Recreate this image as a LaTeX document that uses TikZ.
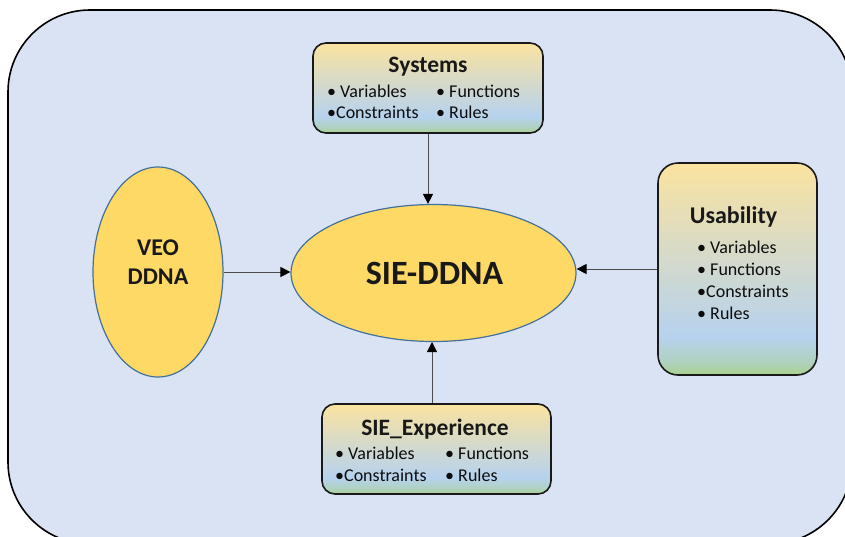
\documentclass[tikz,border=0pt]{standalone}
\usepackage{fontspec}
\setmainfont{Carlito}
\usetikzlibrary{arrows.meta,positioning,shapes.geometric,calc}

\definecolor{panelblue}{RGB}{218,227,243}
\definecolor{ovalfill}{RGB}{255,217,102}
\definecolor{ovalline}{RGB}{65,113,156}
\definecolor{byellow}{RGB}{250,227,160}
\definecolor{bblue}{RGB}{182,210,238}
\definecolor{bgreen}{RGB}{169,209,142}
\pgfdeclareverticalshading{boxgrad}{100bp}{color(0bp)=(bgreen); color(25bp)=(bgreen); color(28bp)=(bgreen!50!bblue); color(34bp)=(bblue); color(75bp)=(byellow); color(100bp)=(byellow)}

\begin{document}
\begin{tikzpicture}[x=1pt, y=-1pt,
		infobox/.style={rectangle, draw=black!90, line width=1.6pt, shade, shading=boxgrad, inner sep=0pt},
		oval/.style={ellipse, fill=ovalfill, draw=ovalline, line width=1.2pt, inner sep=0pt},
		title/.style={font=\fontsize{23.5}{26}\selectfont\bfseries, text=black!90, inner sep=0pt},
		item/.style={font=\fontsize{18}{20}\selectfont, text=black!95, inner sep=0pt, anchor=base west},
		link/.style={draw=black!70, line width=0.9pt, -{Triangle[length=10pt,width=10pt,color=black]}}]
	\useasboundingbox (0,0) rectangle (845,536);
	\clip (0,0) rectangle (845,536);

	% background panel
	\draw[fill=panelblue, line width=1.6pt, rounded corners=82pt] (8,10) rectangle (852,544);

	\node (sie) [oval, minimum width=285pt, minimum height=137pt] at (433.5,273) {};
	\node (sietext) [font=\fontsize{34}{38}\selectfont\bfseries, text=black!90, inner sep=0pt, anchor=base] at (434.5,284) {SIE-DDNA};

	\node (veo) [oval, minimum width=130pt, minimum height=210pt] at (158,272) {};
	\node (veotop) [title, font=\fontsize{24}{26}\selectfont\bfseries, anchor=base] at (158,255) {VEO};
	\node (veobot) [title, font=\fontsize{24}{26}\selectfont\bfseries, anchor=base] at (158,284) {DDNA};

	% Systems
	\node (sys) [infobox, rounded corners=13pt, minimum width=230pt, minimum height=90pt] at (428,88) {};
	\node (systitle) [title, anchor=base] at (428,72) {Systems};
	\node (sysvar) [item] at (327,97) {• Variables};
	\node (sysfun) [item] at (436,97) {• Functions};
	\node (syscon) [item] at (327,118) {•Constraints};
	\node (sysrul) [item] at (436,118) {• Rules};

	% Usability
	\node (usa) [infobox, rounded corners=20pt, minimum width=159pt, minimum height=212pt] at (737.5,269) {};
	\node (usatitle) [title, font=\fontsize{24}{26}\selectfont\bfseries, anchor=base] at (733.5,223) {Usability};
	\node (usavar) [item] at (697,253) {• Variables};
	\node (usafun) [item] at (697,275) {• Functions};
	\node (usacon) [item] at (697,297) {•Constraints};
	\node (usarul) [item] at (697,319) {• Rules};

	% SIE_Experience
	\node (exp) [infobox, rounded corners=13pt, minimum width=229pt, minimum height=90pt] at (436.5,449) {};
	\node (exptitle) [title, anchor=base] at (435,435) {SIE\_Experience};
	\node (expvar) [item] at (335,459) {• Variables};
	\node (expfun) [item] at (445,459) {• Functions};
	\node (expcon) [item] at (335,481) {•Constraints};
	\node (exprul) [item] at (445,481) {• Rules};

	\draw[link] (veo.east) -- (veo.east -| sie.west);
	\draw[link] (sys.south) -- (sys.south |- sie.north);
	\draw[link] (usa.west) -- (usa.west -| sie.east);
	\draw[link] (exp.north -| 432,0) -- (432,342);
\end{tikzpicture}
\end{document}
